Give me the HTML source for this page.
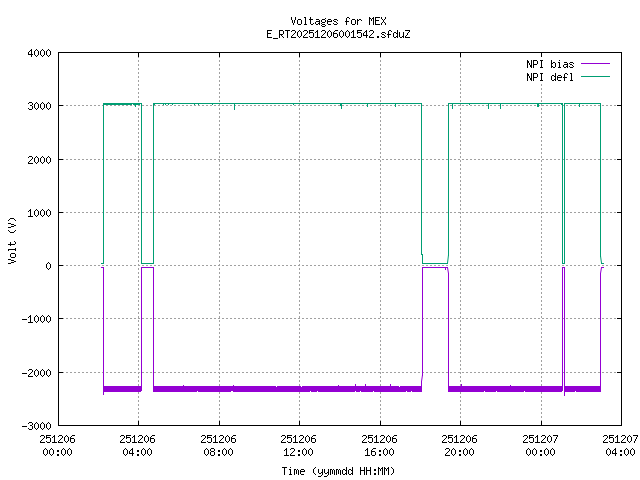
<!DOCTYPE html>
<html><head><meta charset="utf-8"><style>
html,body{margin:0;padding:0;background:#fff;width:640px;height:480px;overflow:hidden}
svg{display:block}
</style></head><body>
<svg width="640" height="480" viewBox="0 0 640 480">
<rect x="0" y="0" width="640" height="480" fill="#fff"/>
<g shape-rendering="crispEdges">
<path d="M58 105.5H621 M58 159.5H621 M58 212.5H621 M58 265.5H621 M58 318.5H621 M58 372.5H621 M138.5 52V425 M219.5 52V425 M299.5 52V425 M380.5 52V425 M460.5 52V425 M541.5 84V425" stroke="#a0a0a0" stroke-width="1" stroke-dasharray="2 2" fill="none"/>
<rect x="58" y="52" width="564" height="1" fill="#000000"/>
<rect x="58" y="425" width="564" height="1" fill="#000000"/>
<rect x="58" y="52" width="1" height="374" fill="#000000"/>
<rect x="621" y="52" width="1" height="374" fill="#000000"/>
<rect x="58" y="52" width="5" height="1" fill="#000000"/>
<rect x="617" y="52" width="5" height="1" fill="#000000"/>
<rect x="58" y="105" width="5" height="1" fill="#000000"/>
<rect x="617" y="105" width="5" height="1" fill="#000000"/>
<rect x="58" y="159" width="5" height="1" fill="#000000"/>
<rect x="617" y="159" width="5" height="1" fill="#000000"/>
<rect x="58" y="212" width="5" height="1" fill="#000000"/>
<rect x="617" y="212" width="5" height="1" fill="#000000"/>
<rect x="58" y="265" width="5" height="1" fill="#000000"/>
<rect x="617" y="265" width="5" height="1" fill="#000000"/>
<rect x="58" y="318" width="5" height="1" fill="#000000"/>
<rect x="617" y="318" width="5" height="1" fill="#000000"/>
<rect x="58" y="372" width="5" height="1" fill="#000000"/>
<rect x="617" y="372" width="5" height="1" fill="#000000"/>
<rect x="58" y="425" width="5" height="1" fill="#000000"/>
<rect x="617" y="425" width="5" height="1" fill="#000000"/>
<rect x="58" y="52" width="1" height="5" fill="#000000"/>
<rect x="58" y="421" width="1" height="5" fill="#000000"/>
<rect x="138" y="52" width="1" height="5" fill="#000000"/>
<rect x="138" y="421" width="1" height="5" fill="#000000"/>
<rect x="219" y="52" width="1" height="5" fill="#000000"/>
<rect x="219" y="421" width="1" height="5" fill="#000000"/>
<rect x="299" y="52" width="1" height="5" fill="#000000"/>
<rect x="299" y="421" width="1" height="5" fill="#000000"/>
<rect x="380" y="52" width="1" height="5" fill="#000000"/>
<rect x="380" y="421" width="1" height="5" fill="#000000"/>
<rect x="460" y="52" width="1" height="5" fill="#000000"/>
<rect x="460" y="421" width="1" height="5" fill="#000000"/>
<rect x="541" y="52" width="1" height="5" fill="#000000"/>
<rect x="541" y="421" width="1" height="5" fill="#000000"/>
<rect x="621" y="52" width="1" height="5" fill="#000000"/>
<rect x="621" y="421" width="1" height="5" fill="#000000"/>
<rect x="101" y="263" width="3" height="1" fill="#009e73"/>
<rect x="103" y="103" width="1" height="161" fill="#009e73"/>
<rect x="103" y="103" width="39" height="1" fill="#009e73"/>
<rect x="103" y="104" width="39" height="1" fill="#009e73"/>
<rect x="135" y="105" width="1" height="2" fill="#009e73"/>
<rect x="132" y="104" width="1" height="1" fill="#ffffff"/>
<rect x="140" y="104" width="1" height="1" fill="#ffffff"/>
<rect x="141" y="103" width="1" height="161" fill="#009e73"/>
<rect x="141" y="263" width="13" height="1" fill="#009e73"/>
<rect x="153" y="103" width="1" height="161" fill="#009e73"/>
<rect x="153" y="103" width="269" height="1" fill="#009e73"/>
<rect x="154" y="103" width="1" height="2" fill="#009e73"/>
<rect x="163" y="103" width="1" height="2" fill="#009e73"/>
<rect x="165" y="103" width="1" height="2" fill="#009e73"/>
<rect x="168" y="103" width="1" height="2" fill="#009e73"/>
<rect x="172" y="103" width="1" height="2" fill="#009e73"/>
<rect x="194" y="103" width="1" height="2" fill="#009e73"/>
<rect x="198" y="103" width="1" height="2" fill="#009e73"/>
<rect x="212" y="103" width="1" height="2" fill="#009e73"/>
<rect x="293" y="103" width="1" height="2" fill="#009e73"/>
<rect x="469" y="103" width="1" height="2" fill="#009e73"/>
<rect x="561" y="103" width="1" height="2" fill="#009e73"/>
<rect x="234" y="103" width="1" height="7" fill="#009e73"/>
<rect x="340" y="104" width="1" height="2" fill="#009e73"/>
<rect x="341" y="103" width="1" height="6" fill="#009e73"/>
<rect x="367" y="103" width="1" height="4" fill="#009e73"/>
<rect x="395" y="103" width="1" height="4" fill="#009e73"/>
<rect x="421" y="103" width="1" height="152" fill="#009e73"/>
<rect x="422" y="254" width="1" height="10" fill="#009e73"/>
<rect x="422" y="263" width="26" height="1" fill="#009e73"/>
<rect x="448" y="103" width="1" height="153" fill="#009e73"/>
<rect x="448" y="103" width="115" height="1" fill="#009e73"/>
<rect x="452" y="103" width="1" height="6" fill="#009e73"/>
<rect x="488" y="103" width="1" height="6" fill="#009e73"/>
<rect x="500" y="103" width="1" height="6" fill="#009e73"/>
<rect x="537" y="103" width="1" height="4" fill="#009e73"/>
<rect x="538" y="103" width="1" height="4" fill="#009e73"/>
<rect x="562" y="103" width="1" height="161" fill="#009e73"/>
<rect x="562" y="263" width="3" height="1" fill="#009e73"/>
<rect x="564" y="103" width="1" height="161" fill="#009e73"/>
<rect x="564" y="103" width="37" height="1" fill="#009e73"/>
<rect x="579" y="103" width="1" height="4" fill="#009e73"/>
<rect x="600" y="103" width="1" height="154" fill="#009e73"/>
<rect x="601" y="263" width="3" height="1" fill="#009e73"/>
<rect x="101" y="267" width="3" height="1" fill="#9400d3"/>
<rect x="103" y="267" width="1" height="128" fill="#9400d3"/>
<rect x="103" y="386" width="39" height="6" fill="#9400d3"/>
<rect x="141" y="267" width="1" height="124" fill="#9400d3"/>
<rect x="141" y="391" width="1" height="1" fill="#ffffff"/>
<rect x="141" y="267" width="13" height="1" fill="#9400d3"/>
<rect x="153" y="267" width="1" height="125" fill="#9400d3"/>
<rect x="153" y="386" width="269" height="6" fill="#9400d3"/>
<rect x="421" y="381" width="1" height="11" fill="#9400d3"/>
<rect x="422" y="267" width="1" height="109" fill="#9400d3"/>
<rect x="422" y="267" width="26" height="1" fill="#9400d3"/>
<rect x="445" y="268" width="1" height="2" fill="#9400d3"/>
<rect x="448" y="273" width="1" height="119" fill="#9400d3"/>
<rect x="448" y="386" width="115" height="6" fill="#9400d3"/>
<rect x="461" y="384" width="1" height="2" fill="#9400d3"/>
<rect x="562" y="267" width="1" height="124" fill="#9400d3"/>
<rect x="562" y="267" width="3" height="1" fill="#9400d3"/>
<rect x="564" y="267" width="1" height="129" fill="#9400d3"/>
<rect x="565" y="386" width="36" height="6" fill="#9400d3"/>
<rect x="600" y="273" width="1" height="119" fill="#9400d3"/>
<rect x="601" y="267" width="3" height="1" fill="#9400d3"/>
<rect x="183" y="385" width="1" height="1" fill="#9400d3"/>
<rect x="233" y="385" width="1" height="1" fill="#9400d3"/>
<rect x="338" y="385" width="1" height="1" fill="#9400d3"/>
<rect x="510" y="385" width="1" height="1" fill="#9400d3"/>
<rect x="355" y="384" width="1" height="2" fill="#9400d3"/>
<rect x="365" y="384" width="1" height="2" fill="#9400d3"/>
<rect x="390" y="384" width="1" height="2" fill="#9400d3"/>
<rect x="461" y="384" width="1" height="2" fill="#9400d3"/>
<rect x="562" y="391" width="1" height="1" fill="#ffffff"/>
<rect x="197" y="391" width="1" height="1" fill="#ffffff"/>
<rect x="231" y="391" width="1" height="1" fill="#ffffff"/>
<rect x="232" y="391" width="1" height="1" fill="#ffffff"/>
<rect x="310" y="391" width="1" height="1" fill="#ffffff"/>
<rect x="317" y="391" width="1" height="1" fill="#ffffff"/>
<rect x="355" y="391" width="1" height="1" fill="#ffffff"/>
<rect x="360" y="391" width="1" height="1" fill="#ffffff"/>
<rect x="373" y="391" width="1" height="1" fill="#ffffff"/>
<rect x="406" y="391" width="1" height="1" fill="#ffffff"/>
<rect x="411" y="391" width="1" height="1" fill="#ffffff"/>
<rect x="484" y="391" width="1" height="1" fill="#ffffff"/>
<rect x="496" y="391" width="1" height="1" fill="#ffffff"/>
<rect x="524" y="391" width="1" height="1" fill="#ffffff"/>
<rect x="575" y="391" width="1" height="1" fill="#ffffff"/>
<rect x="276" y="386" width="1" height="1" fill="#ffffff"/>
<rect x="301" y="386" width="1" height="1" fill="#ffffff"/>
<rect x="399" y="386" width="1" height="1" fill="#ffffff"/>
<rect x="581" y="63" width="29" height="1" fill="#9400d3"/>
<rect x="581" y="76" width="29" height="1" fill="#009e73"/>
</g>
<g><path d="M447.5 263L448.5 255" stroke="#009e73" stroke-width="1" fill="none" stroke-opacity="1"/><path d="M600.5 256L601.5 263" stroke="#009e73" stroke-width="1" fill="none" stroke-opacity="1"/><path d="M422.5 375L421.5 381.5" stroke="#9400d3" stroke-width="1" fill="none" stroke-opacity="1"/><path d="M447.5 267.5L448.5 273.5" stroke="#9400d3" stroke-width="1" fill="none" stroke-opacity="1"/><path d="M601.5 267.5L600.5 273.5" stroke="#9400d3" stroke-width="1" fill="none" stroke-opacity="1"/></g>
<defs><path id="c40" d="M3 3h1v1h-1zM2 4h1v1h-1zM1 5h1v1h-1zM1 6h1v1h-1zM1 7h1v1h-1zM1 8h1v1h-1zM2 9h1v1h-1zM3 10h1v1h-1z"/><path id="c41" d="M1 3h1v1h-1zM2 4h1v1h-1zM3 5h1v1h-1zM3 6h1v1h-1zM3 7h1v1h-1zM3 8h1v1h-1zM2 9h1v1h-1zM1 10h1v1h-1z"/><path id="c45" d="M0 7h5v1h-5z"/><path id="c46" d="M2 9h2v1h-2zM2 10h2v1h-2z"/><path id="c48" d="M2 3h1v1h-1zM1 4h1v1h-1zM3 4h1v1h-1zM0 5h1v1h-1zM4 5h1v1h-1zM0 6h1v1h-1zM4 6h1v1h-1zM0 7h1v1h-1zM4 7h1v1h-1zM0 8h1v1h-1zM4 8h1v1h-1zM1 9h1v1h-1zM3 9h1v1h-1zM2 10h1v1h-1z"/><path id="c49" d="M2 3h1v1h-1zM1 4h2v1h-2zM0 5h1v1h-1zM2 5h1v1h-1zM2 6h1v1h-1zM2 7h1v1h-1zM2 8h1v1h-1zM2 9h1v1h-1zM0 10h5v1h-5z"/><path id="c50" d="M1 3h3v1h-3zM0 4h1v1h-1zM4 4h1v1h-1zM4 5h1v1h-1zM3 6h1v1h-1zM2 7h1v1h-1zM1 8h1v1h-1zM0 9h1v1h-1zM0 10h5v1h-5z"/><path id="c51" d="M1 3h3v1h-3zM0 4h1v1h-1zM4 4h1v1h-1zM4 5h1v1h-1zM2 6h2v1h-2zM4 7h1v1h-1zM4 8h1v1h-1zM0 9h1v1h-1zM4 9h1v1h-1zM1 10h3v1h-3z"/><path id="c52" d="M3 3h1v1h-1zM2 4h2v1h-2zM1 5h1v1h-1zM3 5h1v1h-1zM0 6h1v1h-1zM3 6h1v1h-1zM0 7h1v1h-1zM3 7h1v1h-1zM0 8h5v1h-5zM3 9h1v1h-1zM3 10h1v1h-1z"/><path id="c53" d="M0 3h5v1h-5zM0 4h1v1h-1zM0 5h4v1h-4zM0 6h1v1h-1zM4 6h1v1h-1zM4 7h1v1h-1zM4 8h1v1h-1zM0 9h1v1h-1zM4 9h1v1h-1zM1 10h3v1h-3z"/><path id="c54" d="M2 3h3v1h-3zM1 4h1v1h-1zM0 5h1v1h-1zM0 6h4v1h-4zM0 7h1v1h-1zM4 7h1v1h-1zM0 8h1v1h-1zM4 8h1v1h-1zM0 9h1v1h-1zM4 9h1v1h-1zM1 10h3v1h-3z"/><path id="c55" d="M0 3h5v1h-5zM4 4h1v1h-1zM3 5h1v1h-1zM3 6h1v1h-1zM2 7h1v1h-1zM2 8h1v1h-1zM1 9h1v1h-1zM1 10h1v1h-1z"/><path id="c56" d="M1 3h3v1h-3zM0 4h1v1h-1zM4 4h1v1h-1zM0 5h1v1h-1zM4 5h1v1h-1zM1 6h3v1h-3zM0 7h1v1h-1zM4 7h1v1h-1zM0 8h1v1h-1zM4 8h1v1h-1zM0 9h1v1h-1zM4 9h1v1h-1zM1 10h3v1h-3z"/><path id="c58" d="M2 5h2v1h-2zM2 6h2v1h-2zM2 9h2v1h-2zM2 10h2v1h-2z"/><path id="c69" d="M0 3h5v1h-5zM0 4h1v1h-1zM0 5h1v1h-1zM0 6h4v1h-4zM0 7h1v1h-1zM0 8h1v1h-1zM0 9h1v1h-1zM0 10h5v1h-5z"/><path id="c72" d="M0 3h1v1h-1zM4 3h1v1h-1zM0 4h1v1h-1zM4 4h1v1h-1zM0 5h1v1h-1zM4 5h1v1h-1zM0 6h5v1h-5zM0 7h1v1h-1zM4 7h1v1h-1zM0 8h1v1h-1zM4 8h1v1h-1zM0 9h1v1h-1zM4 9h1v1h-1zM0 10h1v1h-1zM4 10h1v1h-1z"/><path id="c73" d="M1 3h3v1h-3zM2 4h1v1h-1zM2 5h1v1h-1zM2 6h1v1h-1zM2 7h1v1h-1zM2 8h1v1h-1zM2 9h1v1h-1zM1 10h3v1h-3z"/><path id="c77" d="M0 3h1v1h-1zM4 3h1v1h-1zM0 4h2v1h-2zM3 4h2v1h-2zM0 5h1v1h-1zM2 5h1v1h-1zM4 5h1v1h-1zM0 6h1v1h-1zM2 6h1v1h-1zM4 6h1v1h-1zM0 7h1v1h-1zM4 7h1v1h-1zM0 8h1v1h-1zM4 8h1v1h-1zM0 9h1v1h-1zM4 9h1v1h-1zM0 10h1v1h-1zM4 10h1v1h-1z"/><path id="c78" d="M0 3h1v1h-1zM4 3h1v1h-1zM0 4h2v1h-2zM4 4h1v1h-1zM0 5h2v1h-2zM4 5h1v1h-1zM0 6h1v1h-1zM2 6h1v1h-1zM4 6h1v1h-1zM0 7h1v1h-1zM2 7h1v1h-1zM4 7h1v1h-1zM0 8h1v1h-1zM3 8h2v1h-2zM0 9h1v1h-1zM3 9h2v1h-2zM0 10h1v1h-1zM4 10h1v1h-1z"/><path id="c80" d="M0 3h4v1h-4zM0 4h1v1h-1zM4 4h1v1h-1zM0 5h1v1h-1zM4 5h1v1h-1zM0 6h1v1h-1zM4 6h1v1h-1zM0 7h4v1h-4zM0 8h1v1h-1zM0 9h1v1h-1zM0 10h1v1h-1z"/><path id="c82" d="M0 3h4v1h-4zM0 4h1v1h-1zM4 4h1v1h-1zM0 5h1v1h-1zM4 5h1v1h-1zM0 6h1v1h-1zM4 6h1v1h-1zM0 7h4v1h-4zM0 8h1v1h-1zM2 8h1v1h-1zM0 9h1v1h-1zM3 9h1v1h-1zM0 10h1v1h-1zM4 10h1v1h-1z"/><path id="c84" d="M0 3h5v1h-5zM2 4h1v1h-1zM2 5h1v1h-1zM2 6h1v1h-1zM2 7h1v1h-1zM2 8h1v1h-1zM2 9h1v1h-1zM2 10h1v1h-1z"/><path id="c86" d="M0 3h1v1h-1zM4 3h1v1h-1zM0 4h1v1h-1zM4 4h1v1h-1zM0 5h1v1h-1zM4 5h1v1h-1zM1 6h1v1h-1zM3 6h1v1h-1zM1 7h1v1h-1zM3 7h1v1h-1zM1 8h1v1h-1zM3 8h1v1h-1zM2 9h1v1h-1zM2 10h1v1h-1z"/><path id="c88" d="M0 3h1v1h-1zM4 3h1v1h-1zM0 4h1v1h-1zM4 4h1v1h-1zM1 5h1v1h-1zM3 5h1v1h-1zM2 6h1v1h-1zM2 7h1v1h-1zM1 8h1v1h-1zM3 8h1v1h-1zM0 9h1v1h-1zM4 9h1v1h-1zM0 10h1v1h-1zM4 10h1v1h-1z"/><path id="c90" d="M0 3h5v1h-5zM4 4h1v1h-1zM3 5h1v1h-1zM2 6h1v1h-1zM2 7h1v1h-1zM1 8h1v1h-1zM0 9h1v1h-1zM0 10h5v1h-5z"/><path id="c95" d="M0 11h5v1h-5z"/><path id="c97" d="M1 5h3v1h-3zM4 6h1v1h-1zM1 7h4v1h-4zM0 8h1v1h-1zM4 8h1v1h-1zM0 9h1v1h-1zM3 9h2v1h-2zM1 10h2v1h-2zM4 10h1v1h-1z"/><path id="c98" d="M0 3h1v1h-1zM0 4h1v1h-1zM0 5h1v1h-1zM2 5h2v1h-2zM0 6h2v1h-2zM4 6h1v1h-1zM0 7h1v1h-1zM4 7h1v1h-1zM0 8h1v1h-1zM4 8h1v1h-1zM0 9h2v1h-2zM4 9h1v1h-1zM0 10h1v1h-1zM2 10h2v1h-2z"/><path id="c100" d="M4 3h1v1h-1zM4 4h1v1h-1zM1 5h2v1h-2zM4 5h1v1h-1zM0 6h1v1h-1zM3 6h2v1h-2zM0 7h1v1h-1zM4 7h1v1h-1zM0 8h1v1h-1zM4 8h1v1h-1zM0 9h1v1h-1zM3 9h2v1h-2zM1 10h2v1h-2zM4 10h1v1h-1z"/><path id="c101" d="M1 5h3v1h-3zM0 6h1v1h-1zM4 6h1v1h-1zM0 7h5v1h-5zM0 8h1v1h-1zM0 9h1v1h-1zM1 10h3v1h-3z"/><path id="c102" d="M2 3h2v1h-2zM1 4h1v1h-1zM4 4h1v1h-1zM1 5h1v1h-1zM1 6h1v1h-1zM0 7h4v1h-4zM1 8h1v1h-1zM1 9h1v1h-1zM1 10h1v1h-1z"/><path id="c103" d="M4 4h1v1h-1zM1 5h3v1h-3zM0 6h1v1h-1zM4 6h1v1h-1zM0 7h1v1h-1zM4 7h1v1h-1zM1 8h3v1h-3zM0 9h1v1h-1zM1 10h3v1h-3zM0 11h1v1h-1zM4 11h1v1h-1zM1 12h3v1h-3z"/><path id="c105" d="M2 3h1v1h-1zM1 5h2v1h-2zM2 6h1v1h-1zM2 7h1v1h-1zM2 8h1v1h-1zM2 9h1v1h-1zM1 10h3v1h-3z"/><path id="c108" d="M1 3h2v1h-2zM2 4h1v1h-1zM2 5h1v1h-1zM2 6h1v1h-1zM2 7h1v1h-1zM2 8h1v1h-1zM2 9h1v1h-1zM1 10h3v1h-3z"/><path id="c109" d="M0 5h2v1h-2zM3 5h1v1h-1zM0 6h1v1h-1zM2 6h1v1h-1zM4 6h1v1h-1zM0 7h1v1h-1zM2 7h1v1h-1zM4 7h1v1h-1zM0 8h1v1h-1zM2 8h1v1h-1zM4 8h1v1h-1zM0 9h1v1h-1zM2 9h1v1h-1zM4 9h1v1h-1zM0 10h1v1h-1zM4 10h1v1h-1z"/><path id="c111" d="M1 5h3v1h-3zM0 6h1v1h-1zM4 6h1v1h-1zM0 7h1v1h-1zM4 7h1v1h-1zM0 8h1v1h-1zM4 8h1v1h-1zM0 9h1v1h-1zM4 9h1v1h-1zM1 10h3v1h-3z"/><path id="c114" d="M0 5h1v1h-1zM2 5h2v1h-2zM0 6h2v1h-2zM4 6h1v1h-1zM0 7h1v1h-1zM0 8h1v1h-1zM0 9h1v1h-1zM0 10h1v1h-1z"/><path id="c115" d="M1 5h3v1h-3zM0 6h1v1h-1zM4 6h1v1h-1zM1 7h2v1h-2zM3 8h1v1h-1zM0 9h1v1h-1zM4 9h1v1h-1zM1 10h3v1h-3z"/><path id="c116" d="M1 3h1v1h-1zM1 4h1v1h-1zM0 5h4v1h-4zM1 6h1v1h-1zM1 7h1v1h-1zM1 8h1v1h-1zM1 9h1v1h-1zM4 9h1v1h-1zM2 10h2v1h-2z"/><path id="c117" d="M0 5h1v1h-1zM4 5h1v1h-1zM0 6h1v1h-1zM4 6h1v1h-1zM0 7h1v1h-1zM4 7h1v1h-1zM0 8h1v1h-1zM4 8h1v1h-1zM0 9h1v1h-1zM3 9h2v1h-2zM1 10h2v1h-2zM4 10h1v1h-1z"/><path id="c121" d="M0 5h1v1h-1zM4 5h1v1h-1zM0 6h1v1h-1zM4 6h1v1h-1zM0 7h1v1h-1zM4 7h1v1h-1zM0 8h1v1h-1zM3 8h2v1h-2zM1 9h2v1h-2zM4 9h1v1h-1zM4 10h1v1h-1zM3 11h1v1h-1zM0 12h3v1h-3z"/></defs>
<g fill="#000" shape-rendering="crispEdges">
<use href="#c86" x="291" y="14"/>
<use href="#c111" x="297" y="14"/>
<use href="#c108" x="303" y="14"/>
<use href="#c116" x="309" y="14"/>
<use href="#c97" x="315" y="14"/>
<use href="#c103" x="321" y="14"/>
<use href="#c101" x="327" y="14"/>
<use href="#c115" x="333" y="14"/>
<use href="#c102" x="345" y="14"/>
<use href="#c111" x="351" y="14"/>
<use href="#c114" x="357" y="14"/>
<use href="#c77" x="369" y="14"/>
<use href="#c69" x="375" y="14"/>
<use href="#c88" x="381" y="14"/>
<use href="#c69" x="267" y="27"/>
<use href="#c95" x="273" y="27"/>
<use href="#c82" x="279" y="27"/>
<use href="#c84" x="285" y="27"/>
<use href="#c50" x="291" y="27"/>
<use href="#c48" x="297" y="27"/>
<use href="#c50" x="303" y="27"/>
<use href="#c53" x="309" y="27"/>
<use href="#c49" x="315" y="27"/>
<use href="#c50" x="321" y="27"/>
<use href="#c48" x="327" y="27"/>
<use href="#c54" x="333" y="27"/>
<use href="#c48" x="339" y="27"/>
<use href="#c48" x="345" y="27"/>
<use href="#c49" x="351" y="27"/>
<use href="#c53" x="357" y="27"/>
<use href="#c52" x="363" y="27"/>
<use href="#c50" x="369" y="27"/>
<use href="#c46" x="375" y="27"/>
<use href="#c115" x="381" y="27"/>
<use href="#c102" x="387" y="27"/>
<use href="#c100" x="393" y="27"/>
<use href="#c117" x="399" y="27"/>
<use href="#c90" x="405" y="27"/>
<use href="#c52" x="28" y="46"/>
<use href="#c48" x="34" y="46"/>
<use href="#c48" x="40" y="46"/>
<use href="#c48" x="46" y="46"/>
<use href="#c51" x="28" y="99"/>
<use href="#c48" x="34" y="99"/>
<use href="#c48" x="40" y="99"/>
<use href="#c48" x="46" y="99"/>
<use href="#c50" x="28" y="153"/>
<use href="#c48" x="34" y="153"/>
<use href="#c48" x="40" y="153"/>
<use href="#c48" x="46" y="153"/>
<use href="#c49" x="28" y="206"/>
<use href="#c48" x="34" y="206"/>
<use href="#c48" x="40" y="206"/>
<use href="#c48" x="46" y="206"/>
<use href="#c48" x="46" y="259"/>
<use href="#c45" x="22" y="312"/>
<use href="#c49" x="28" y="312"/>
<use href="#c48" x="34" y="312"/>
<use href="#c48" x="40" y="312"/>
<use href="#c48" x="46" y="312"/>
<use href="#c45" x="22" y="366"/>
<use href="#c50" x="28" y="366"/>
<use href="#c48" x="34" y="366"/>
<use href="#c48" x="40" y="366"/>
<use href="#c48" x="46" y="366"/>
<use href="#c45" x="22" y="419"/>
<use href="#c51" x="28" y="419"/>
<use href="#c48" x="34" y="419"/>
<use href="#c48" x="40" y="419"/>
<use href="#c48" x="46" y="419"/>
<use href="#c50" x="40" y="432"/>
<use href="#c53" x="46" y="432"/>
<use href="#c49" x="52" y="432"/>
<use href="#c50" x="58" y="432"/>
<use href="#c48" x="64" y="432"/>
<use href="#c54" x="70" y="432"/>
<use href="#c48" x="43" y="445"/>
<use href="#c48" x="49" y="445"/>
<use href="#c58" x="55" y="445"/>
<use href="#c48" x="61" y="445"/>
<use href="#c48" x="67" y="445"/>
<use href="#c50" x="120" y="432"/>
<use href="#c53" x="126" y="432"/>
<use href="#c49" x="132" y="432"/>
<use href="#c50" x="138" y="432"/>
<use href="#c48" x="144" y="432"/>
<use href="#c54" x="150" y="432"/>
<use href="#c48" x="123" y="445"/>
<use href="#c52" x="129" y="445"/>
<use href="#c58" x="135" y="445"/>
<use href="#c48" x="141" y="445"/>
<use href="#c48" x="147" y="445"/>
<use href="#c50" x="201" y="432"/>
<use href="#c53" x="207" y="432"/>
<use href="#c49" x="213" y="432"/>
<use href="#c50" x="219" y="432"/>
<use href="#c48" x="225" y="432"/>
<use href="#c54" x="231" y="432"/>
<use href="#c48" x="204" y="445"/>
<use href="#c56" x="210" y="445"/>
<use href="#c58" x="216" y="445"/>
<use href="#c48" x="222" y="445"/>
<use href="#c48" x="228" y="445"/>
<use href="#c50" x="281" y="432"/>
<use href="#c53" x="287" y="432"/>
<use href="#c49" x="293" y="432"/>
<use href="#c50" x="299" y="432"/>
<use href="#c48" x="305" y="432"/>
<use href="#c54" x="311" y="432"/>
<use href="#c49" x="284" y="445"/>
<use href="#c50" x="290" y="445"/>
<use href="#c58" x="296" y="445"/>
<use href="#c48" x="302" y="445"/>
<use href="#c48" x="308" y="445"/>
<use href="#c50" x="362" y="432"/>
<use href="#c53" x="368" y="432"/>
<use href="#c49" x="374" y="432"/>
<use href="#c50" x="380" y="432"/>
<use href="#c48" x="386" y="432"/>
<use href="#c54" x="392" y="432"/>
<use href="#c49" x="365" y="445"/>
<use href="#c54" x="371" y="445"/>
<use href="#c58" x="377" y="445"/>
<use href="#c48" x="383" y="445"/>
<use href="#c48" x="389" y="445"/>
<use href="#c50" x="442" y="432"/>
<use href="#c53" x="448" y="432"/>
<use href="#c49" x="454" y="432"/>
<use href="#c50" x="460" y="432"/>
<use href="#c48" x="466" y="432"/>
<use href="#c54" x="472" y="432"/>
<use href="#c50" x="445" y="445"/>
<use href="#c48" x="451" y="445"/>
<use href="#c58" x="457" y="445"/>
<use href="#c48" x="463" y="445"/>
<use href="#c48" x="469" y="445"/>
<use href="#c50" x="523" y="432"/>
<use href="#c53" x="529" y="432"/>
<use href="#c49" x="535" y="432"/>
<use href="#c50" x="541" y="432"/>
<use href="#c48" x="547" y="432"/>
<use href="#c55" x="553" y="432"/>
<use href="#c48" x="526" y="445"/>
<use href="#c48" x="532" y="445"/>
<use href="#c58" x="538" y="445"/>
<use href="#c48" x="544" y="445"/>
<use href="#c48" x="550" y="445"/>
<use href="#c50" x="603" y="432"/>
<use href="#c53" x="609" y="432"/>
<use href="#c49" x="615" y="432"/>
<use href="#c50" x="621" y="432"/>
<use href="#c48" x="627" y="432"/>
<use href="#c55" x="633" y="432"/>
<use href="#c48" x="606" y="445"/>
<use href="#c52" x="612" y="445"/>
<use href="#c58" x="618" y="445"/>
<use href="#c48" x="624" y="445"/>
<use href="#c48" x="630" y="445"/>
<use href="#c84" x="282" y="464"/>
<use href="#c105" x="288" y="464"/>
<use href="#c109" x="294" y="464"/>
<use href="#c101" x="300" y="464"/>
<use href="#c40" x="312" y="464"/>
<use href="#c121" x="318" y="464"/>
<use href="#c121" x="324" y="464"/>
<use href="#c109" x="330" y="464"/>
<use href="#c109" x="336" y="464"/>
<use href="#c100" x="342" y="464"/>
<use href="#c100" x="348" y="464"/>
<use href="#c72" x="360" y="464"/>
<use href="#c72" x="366" y="464"/>
<use href="#c58" x="372" y="464"/>
<use href="#c77" x="378" y="464"/>
<use href="#c77" x="384" y="464"/>
<use href="#c41" x="390" y="464"/>
<use href="#c78" x="527" y="57"/>
<use href="#c80" x="533" y="57"/>
<use href="#c73" x="539" y="57"/>
<use href="#c98" x="551" y="57"/>
<use href="#c105" x="557" y="57"/>
<use href="#c97" x="563" y="57"/>
<use href="#c115" x="569" y="57"/>
<use href="#c78" x="527" y="70"/>
<use href="#c80" x="533" y="70"/>
<use href="#c73" x="539" y="70"/>
<use href="#c100" x="551" y="70"/>
<use href="#c101" x="557" y="70"/>
<use href="#c102" x="563" y="70"/>
<use href="#c108" x="569" y="70"/>
<use href="#c86" transform="matrix(0 -1 1 0 5 264)"/>
<use href="#c111" transform="matrix(0 -1 1 0 5 258)"/>
<use href="#c108" transform="matrix(0 -1 1 0 5 252)"/>
<use href="#c116" transform="matrix(0 -1 1 0 5 246)"/>
<use href="#c40" transform="matrix(0 -1 1 0 5 234)"/>
<use href="#c86" transform="matrix(0 -1 1 0 5 228)"/>
<use href="#c41" transform="matrix(0 -1 1 0 5 222)"/>
</g>
</svg>
</body></html>
